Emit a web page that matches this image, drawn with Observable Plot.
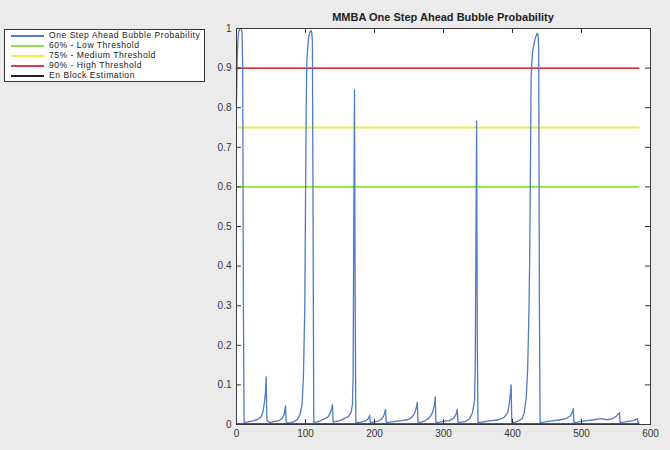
<!DOCTYPE html>
<html>
<head>
<meta charset="utf-8">
<script src="https://cdn.jsdelivr.net/npm/d3@7"></script>
<script src="https://cdn.jsdelivr.net/npm/@observablehq/plot@0.6"></script>
<style>
  html, body { margin: 0; padding: 0; background: #ebebeb; }
  #wrap { position: relative; width: 670px; height: 450px; font-family: "Liberation Sans", Arial, sans-serif; }
  #title { position: absolute; left: 236px; width: 414px; top: 11px; text-align: center; font-weight: bold; font-size: 11px; color: #222; }
  #legend { position: absolute; left: 4px; top: 29px; width: 199px; height: 51px; border: 1px solid #333; background: #fff; box-sizing: content-box; }
  .row { position: absolute; left: 0; height: 9px; font-size: 8.6px; line-height: 9px; letter-spacing: 0.5px; color: #222; white-space: nowrap; }
  .row .ln { position: absolute; left: 6px; top: 4px; width: 33px; height: 2px; }
  .row .tx { position: absolute; left: 44px; top: 0; }
</style>
</head>
<body>
<div id="wrap">
  <div id="title"></div>
  <div id="legend"></div>
</div>
<script>
// ---- data ----
const chartTitle = "MMBA One Step Ahead Bubble Probability";
const seriesNames = ["One Step Ahead Bubble Probability", "60% - Low  Threshold", "75% - Medium  Threshold", "90% - High  Threshold", "En Block Estimation"];
const seriesColors = ["#4f7cc4", "#8ee044", "#eeee3c", "#dc3c40", "#222222"];

const stepIndex = [0,1,2,3,5,7,8,9,10,11,
  15,20,25,30,35,38,40,42,43,44,
  48,55,62,66,69,71,72,
  76,82,88,92,95,97,99,100,101,102,104,106,108,109,110,111,112,
  116,122,128,133,136,138,139,140,
  144,150,156,162,166,168,169,170,171,172,173,
  178,184,188,191,193,194,198,204,209,213,216,217,
  222,230,240,248,254,258,261,262,263,
  268,274,280,284,287,288,289,
  294,300,308,314,318,320,321,
  326,332,338,342,345,346,347,348,349,350,
  355,362,370,380,388,393,396,398,399,
  404,410,414,417,420,422,424,425,426,427,429,431,433,435,436,437,438,439,440,
  445,452,460,470,478,484,487,488,489,
  494,500,508,518,528,538,545,550,554,555,556,
  561,568,575,579,581,582,583];
const bubbleProb = [0.81,0.92,0.97,0.99,1.0,1.0,0.99,0.9,0.3,0.005,
  0.006,0.008,0.01,0.012,0.018,0.03,0.05,0.08,0.12,0.01,
  0.005,0.008,0.01,0.015,0.025,0.047,0.005,
  0.004,0.006,0.012,0.025,0.05,0.12,0.3,0.55,0.8,0.92,0.97,0.99,0.995,0.99,0.97,0.5,0.005,
  0.006,0.01,0.015,0.02,0.03,0.04,0.05,0.006,
  0.008,0.01,0.015,0.02,0.03,0.05,0.12,0.5,0.845,0.3,0.005,
  0.005,0.008,0.01,0.015,0.023,0.004,0.006,0.008,0.012,0.02,0.038,0.005,
  0.006,0.008,0.01,0.012,0.018,0.028,0.045,0.056,0.005,
  0.006,0.01,0.018,0.03,0.05,0.07,0.005,
  0.006,0.008,0.01,0.015,0.025,0.038,0.005,
  0.006,0.008,0.015,0.03,0.06,0.15,0.45,0.766,0.2,0.005,
  0.006,0.008,0.01,0.012,0.018,0.03,0.06,0.10,0.005,
  0.006,0.01,0.015,0.03,0.07,0.14,0.3,0.43,0.65,0.88,0.94,0.96,0.975,0.985,0.988,0.985,0.95,0.3,0.005,
  0.006,0.008,0.01,0.012,0.015,0.022,0.032,0.04,0.005,
  0.006,0.008,0.01,0.012,0.015,0.012,0.015,0.02,0.028,0.03,0.005,
  0.006,0.008,0.01,0.012,0.015,0.005,0.005];

const thresholdValues = [0.6, 0.75, 0.9];
const thresholdStart = 0;
const thresholdEnd = 583;
const enBlockIndex = [0, 583];
const enBlockValues = [0.001, 0.001];

const xTicks = [0, 100, 200, 300, 400, 500, 600];
const xTickLabels = ["0", "100", "200", "300", "400", "500", "600"];
const yTicks = [0, 0.1, 0.2, 0.3, 0.4, 0.5, 0.6, 0.7, 0.8, 0.9, 1];
const yTickLabels = ["0", "0.1", "0.2", "0.3", "0.4", "0.5", "0.6", "0.7", "0.8", "0.9", "1"];

// ---- build tables ----
const probData = stepIndex.map((x, i) => ({x, y: bubbleProb[i]}));
const thrData = thresholdValues.flatMap((v, i) => [
  {x: thresholdStart, y: v, k: i + 1}, {x: thresholdEnd, y: v, k: i + 1}
]);
const enBlock = enBlockIndex.map((x, i) => ({x, y: enBlockValues[i]}));

const W = 670, H = 450;
const mL = 236, mR = 20, mT = 28, mB = 26;
const plotH = H - mT - mB, plotW = W - mL - mR;
const tickLen = 5;
const yTickLen = tickLen / plotH;          // in y-data units
const xTickLen = tickLen * 600 / plotW;     // in x-data units

const chart = Plot.plot({
  width: W, height: H,
  marginLeft: mL, marginRight: mR, marginTop: mT, marginBottom: mB,
  style: {background: "transparent", fontFamily: "Liberation Sans, Arial, sans-serif", fontSize: "10px", color: "#333"},
  x: {domain: [0, 600], label: null},
  y: {domain: [0, 1], label: null},
  marks: [
    Plot.frame({fill: "white", stroke: null}),
    Plot.line(thrData, {x: "x", y: "y", z: "k", stroke: d => seriesColors[d.k], strokeWidth: 1.8}),
    Plot.line(probData, {x: "x", y: "y", stroke: seriesColors[0], strokeWidth: 1.3}),
    Plot.line(enBlock, {x: "x", y: "y", stroke: seriesColors[4], strokeWidth: 1.5}),
    // inward ticks (MATLAB style) on all four sides
    Plot.ruleX(xTicks, {x: d => d, y1: 0, y2: yTickLen, stroke: "#333"}),
    Plot.ruleX(xTicks, {x: d => d, y1: 1 - yTickLen, y2: 1, stroke: "#333"}),
    Plot.ruleY(yTicks, {y: d => d, x1: 0, x2: xTickLen, stroke: "#333"}),
    Plot.ruleY(yTicks, {y: d => d, x1: 600 - xTickLen, x2: 600, stroke: "#333"}),
    Plot.axisX(xTicks, {tickSize: 0, tickPadding: 5, label: null, tickFormat: (d, i) => xTickLabels[i], fill: "#333"}),
    Plot.axisY(yTicks, {tickSize: 0, tickPadding: 5, label: null, tickFormat: (d, i) => yTickLabels[i], fill: "#333"}),
    Plot.frame({stroke: "#3a3a3a", strokeWidth: 1})
  ]
});
document.getElementById("wrap").prepend(chart);
chart.style.position = "absolute";
chart.style.left = "0px";
chart.style.top = "0px";

document.getElementById("title").textContent = chartTitle;
const leg = document.getElementById("legend");
seriesNames.forEach((name, i) => {
  const r = document.createElement("div");
  r.className = "row";
  r.style.top = (1 + i * 10) + "px";
  r.style.width = "199px";
  const ln = document.createElement("div");
  ln.className = "ln";
  ln.style.background = seriesColors[i];
  const tx = document.createElement("div");
  tx.className = "tx";
  tx.textContent = name;
  r.appendChild(ln); r.appendChild(tx);
  leg.appendChild(r);
});
</script>
</body>
</html>
